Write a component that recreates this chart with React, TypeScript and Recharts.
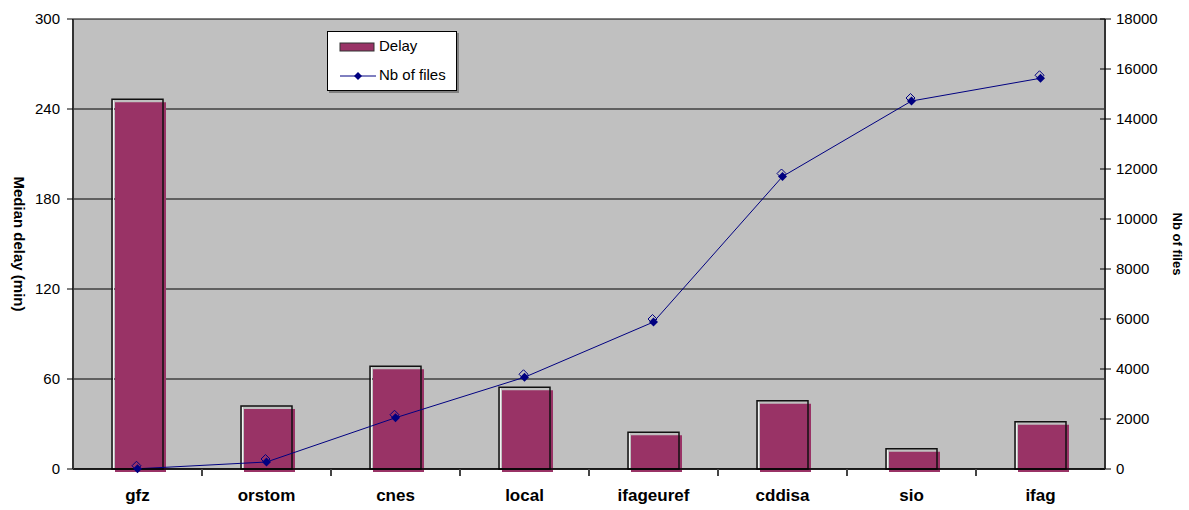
import React from 'react';
import {
  ComposedChart,
  Bar,
  Line,
  XAxis,
  YAxis,
  CartesianGrid,
  Legend,
} from 'recharts';

const centers = ['gfz', 'orstom', 'cnes', 'local', 'ifageuref', 'cddisa', 'sio', 'ifag'];
const medianDelay = [246.5, 42, 68.5, 54.5, 24.5, 45.5, 13.5, 31.5];
const nbFiles = [10, 280, 2050, 3670, 5880, 11700, 14720, 15630];
const delayTicks = [0, 60, 120, 180, 240, 300];
const fileTicks = [0, 2000, 4000, 6000, 8000, 10000, 12000, 14000, 16000, 18000];

const W = 1189;
const H = 510;
const LEFT_W = 73;
const RIGHT_W = 84;
const BAND = (W - LEFT_W - RIGHT_W) / centers.length;

const FONT = '"Liberation Sans", Arial, sans-serif';
const MAROON = '#993366';
const NAVY = '#000080';

const chartData = centers.map((name, i) => ({
  name,
  delay: medianDelay[i],
  files: nbFiles[i],
}));

// excel style bar: outline at the value, fill pushed a bit right/down
const ShadowBar = (props: any) => {
  const { x, y, width, height } = props;
  if (!height || height <= 0) return null;
  return (
    <g>
      <rect x={x + 3} y={y + 3} width={width} height={height} fill={MAROON} />
      <line x1={x + 1.5} x2={x + 1.5} y1={y + 1} y2={y + height} stroke="#f2f2f2" strokeWidth={1} />
      <rect x={x} y={y} width={width} height={height} fill="none" stroke="#111" strokeWidth={1.5} />
    </g>
  );
};

const diamond = (cx: number, cy: number, r: number) =>
  `M${cx},${cy - r} L${cx + r},${cy} L${cx},${cy + r} L${cx - r},${cy} Z`;

const DiamondDot = (props: any) => {
  const { cx, cy, index } = props;
  if (cx == null || cy == null) return null;
  return (
    <g key={`dot-${index}`}>
      <path d={diamond(cx - 1, cy - 3, 4.5)} fill="none" stroke={NAVY} strokeWidth={1} />
      <path d={diamond(cx, cy, 4.5)} fill={NAVY} />
    </g>
  );
};

const CategoryTick = (props: any) => {
  const { x, y, payload, index } = props;
  return (
    <g>
      {index > 0 && (
        <line x1={x - BAND / 2} x2={x - BAND / 2} y1={y} y2={y + 7} stroke="#444" strokeWidth={2} />
      )}
      <text x={x} y={y + 32} textAnchor="middle" fontFamily={FONT} fontWeight="bold" fontSize={17} fill="#000">
        {payload.value}
      </text>
    </g>
  );
};

// right axis ticks cross the axis line, like the excel original
const FilesTick = (props: any) => {
  const { x, y, payload } = props;
  const axisX = x - 11;
  return (
    <g>
      <line x1={axisX - 5} x2={axisX} y1={y} y2={y} stroke="#000" />
      <text x={x} y={y} dy="0.355em" textAnchor="start" fontFamily={FONT} fontSize={15} fill="#000">
        {payload.value}
      </text>
    </g>
  );
};

const LegendBox = () => (
  <div
    style={{
      width: 128,
      height: 58,
      background: '#fff',
      border: '1px solid #000',
      boxShadow: '2px 2px 0 #808080',
      fontFamily: FONT,
      fontSize: 15,
      color: '#000',
      position: 'relative',
    }}
  >
    <svg width={40} height={60} style={{ position: 'absolute', left: 10, top: 0 }}>
      <rect x={2} y={11} width={34} height={8} fill={MAROON} stroke="#333" strokeWidth={1} />
      <line x1={2} x2={38} y1={44} y2={44} stroke={NAVY} strokeWidth={1} />
      <path d={diamond(20, 44, 4)} fill={NAVY} />
    </svg>
    <span style={{ position: 'absolute', left: 51, top: 5 }}>Delay</span>
    <span style={{ position: 'absolute', left: 51, top: 34 }}>Nb of files</span>
  </div>
);

export default function App() {
  return (
    <div style={{ position: 'absolute', left: 0, top: 0 }}>
      <ComposedChart
        width={W}
        height={H}
        data={chartData}
        margin={{ top: 19, right: 0, bottom: 0, left: 0 }}
        barCategoryGap="30%"
      >
        <CartesianGrid
          yAxisId="left"
          vertical={false}
          fill="#C0C0C0"
          fillOpacity={1}
          stroke="#000"
        />
        <XAxis
          dataKey="name"
          height={41}
          tickLine={false}
          tickSize={0}
          tickMargin={0}
          tick={<CategoryTick />}
          axisLine={{ stroke: '#000', strokeWidth: 1.5 }}
          interval={0}
        />
        <YAxis
          yAxisId="left"
          orientation="left"
          width={LEFT_W}
          domain={[0, 300]}
          ticks={delayTicks}
          interval={0}
          tickSize={6}
          tickMargin={7}
          axisLine={{ stroke: '#333', strokeWidth: 2 }}
          tickLine={{ stroke: '#000' }}
          tick={{ fill: '#000', fontSize: 15, fontFamily: FONT }}
          label={{
            content: (p: any) => {
              const vb = p.viewBox;
              const cx = vb.x + 19;
              const cy = vb.y + vb.height / 2;
              return (
                <text
                  x={cx}
                  y={cy}
                  transform={`rotate(90 ${cx} ${cy})`}
                  textAnchor="middle"
                  dominantBaseline="central"
                  fontFamily={FONT}
                  fontWeight="bold"
                  fontSize={15}
                  fill="#000"
                >
                  Median delay (min)
                </text>
              );
            },
          }}
        />
        <YAxis
          yAxisId="right"
          orientation="right"
          width={RIGHT_W}
          domain={[0, 18000]}
          ticks={fileTicks}
          interval={0}
          tickSize={6}
          tickMargin={5}
          axisLine={{ stroke: '#333', strokeWidth: 2 }}
          tickLine={{ stroke: '#000' }}
          tick={<FilesTick />}
          label={{
            content: (p: any) => {
              const vb = p.viewBox;
              const cx = vb.x + 72;
              const cy = vb.y + vb.height / 2;
              return (
                <text
                  x={cx}
                  y={cy}
                  transform={`rotate(90 ${cx} ${cy})`}
                  textAnchor="middle"
                  dominantBaseline="central"
                  fontFamily={FONT}
                  fontWeight="bold"
                  fontSize={13}
                  fill="#000"
                >
                  Nb of files
                </text>
              );
            },
          }}
        />
        <Legend
          layout="vertical"
          verticalAlign="middle"
          align="center"
          content={() => <LegendBox />}
          wrapperStyle={{ position: 'absolute', left: 327, top: 31, width: 130, height: 60 }}
        />
        <Bar
          yAxisId="left"
          dataKey="delay"
          name="Delay"
          barSize={51}
          shape={(p: any) => <ShadowBar {...p} />}
          isAnimationActive={false}
        />
        <Line
          yAxisId="right"
          type="linear"
          dataKey="files"
          name="Nb of files"
          stroke={NAVY}
          strokeWidth={1}
          dot={(p: any) => <DiamondDot key={`d-${p.index}`} {...p} />}
          activeDot={false}
          isAnimationActive={false}
        />
      </ComposedChart>
    </div>
  );
}
